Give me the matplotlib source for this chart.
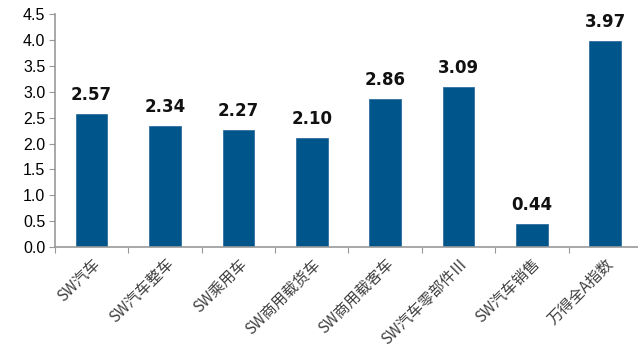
import matplotlib
matplotlib.use("Agg")
import matplotlib.pyplot as plt

categories = ["SW汽车", "SW汽车整车", "SW乘用车", "SW商用载货车", "SW商用载客车", "SW汽车零部件Ⅲ", "SW汽车销售", "万得全A指数"]
values = [2.57, 2.34, 2.27, 2.10, 2.86, 3.09, 0.44, 3.97]
yticks = [0.0, 0.5, 1.0, 1.5, 2.0, 2.5, 3.0, 3.5, 4.0, 4.5]

plt.rcParams['font.family'] = ['Noto Sans CJK SC', 'DejaVu Sans']

fig = plt.figure(figsize=(6.38, 3.5), dpi=100)
ax = fig.add_axes([0.0862, 0.294, 0.92, 0.666])
x = list(range(len(categories)))
ax.bar(x, values, width=0.43, color="#00568A", edgecolor="#2F6F9F", linewidth=0.6)
for xi, v in zip(x, values):
    ax.text(xi, v + 0.27, f"{v:.2f}", ha="center", va="baseline", fontsize=12,
            fontweight="bold", family=["DejaVu Sans"], color="#111111")
ax.set_xlim(-0.5, len(categories) - 0.5)
ax.set_ylim(0, 4.5)
ax.set_yticks(yticks)
ax.set_yticklabels([f"{t:.1f}" for t in yticks], family=["Liberation Sans"], fontsize=11.5)
ax.set_xticks([i - 0.5 for i in range(len(categories) + 1)], minor=False)
ax.set_xticklabels([])
ax.set_xticks(x, minor=True)
ax.set_xticklabels(categories, minor=True, rotation=45, ha="right", rotation_mode="anchor",
                   fontsize=11, color="#404040")
ax.tick_params(axis="x", which="minor", length=0, pad=6)
ax.tick_params(axis="x", which="major", length=4, color="#999999", direction="out")
ax.tick_params(axis="y", length=4, color="#999999", direction="out", pad=3)
for s in ["top", "right"]:
    ax.spines[s].set_visible(False)
for s in ["left", "bottom"]:
    ax.spines[s].set_color("#999999")
    ax.spines[s].set_linewidth(1.2)
fig.savefig("out.png", dpi=100)
